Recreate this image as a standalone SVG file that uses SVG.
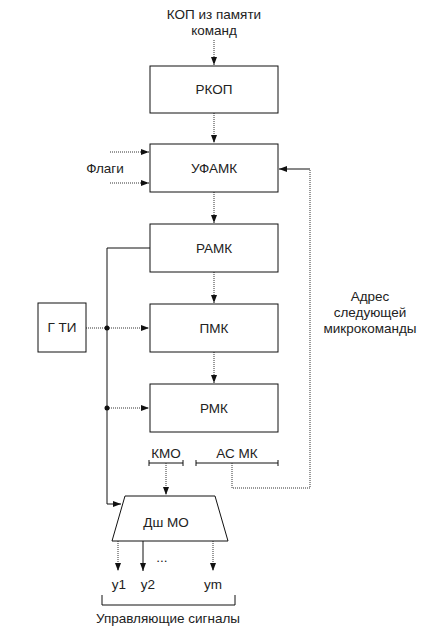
<svg xmlns="http://www.w3.org/2000/svg" width="430" height="631" viewBox="0 0 430 631">
<style>
text{font-family:"Liberation Sans",Arial,sans-serif;font-size:13.5px;fill:#222}
.c{text-anchor:middle}
.box{fill:#fff;stroke:#111;stroke-width:1}
.s{fill:none;stroke:#111;stroke-width:1}
.d{fill:none;stroke:#333;stroke-width:1;stroke-dasharray:1,1}
</style>
<defs>
<marker id="a" markerWidth="9" markerHeight="9" refX="8" refY="4.5" orient="auto" markerUnits="userSpaceOnUse">
<path d="M0,1.5 L8,4.5 L0,7.5 Z" fill="#111"/>
</marker>
</defs>
<g id="connectors">
<line class="d" x1="214" y1="40" x2="214" y2="65" marker-end="url(#a)"/>
<line class="d" x1="214" y1="113" x2="214" y2="143" marker-end="url(#a)"/>
<line class="d" x1="110" y1="152" x2="149" y2="152" marker-end="url(#a)"/>
<line class="d" x1="110" y1="183" x2="149" y2="183" marker-end="url(#a)"/>
<line class="d" x1="214" y1="192" x2="214" y2="223" marker-end="url(#a)"/>
<line class="d" x1="214" y1="272" x2="214" y2="303" marker-end="url(#a)"/>
<line class="d" x1="214" y1="352" x2="214" y2="383" marker-end="url(#a)"/>
<polyline class="s" points="150,248 107,248 107,504 121,504" marker-end="url(#a)"/>
<line class="d" x1="86" y1="328" x2="107" y2="328"/>
<line class="d" x1="107" y1="328" x2="149" y2="328" marker-end="url(#a)"/>
<line class="d" x1="107" y1="408" x2="149" y2="408" marker-end="url(#a)"/>
<circle cx="107" cy="328" r="2.5" fill="#111"/>
<circle cx="107" cy="408" r="2.5" fill="#111"/>
<line class="s" x1="149" y1="463" x2="183" y2="463"/>
<line class="s" x1="149" y1="460" x2="149" y2="466"/>
<line class="s" x1="183" y1="460" x2="183" y2="466"/>
<line class="s" x1="196" y1="463" x2="278" y2="463"/>
<line class="s" x1="196" y1="460" x2="196" y2="466"/>
<line class="s" x1="278" y1="460" x2="278" y2="466"/>
<line class="d" x1="166" y1="463" x2="166" y2="495" marker-end="url(#a)"/>
<polyline class="d" points="232,463 232,488 310,488 310,169"/>
<line class="s" x1="310" y1="169" x2="279" y2="169" marker-end="url(#a)"/>
<line class="d" x1="118" y1="541" x2="118" y2="571" marker-end="url(#a)"/>
<line class="s" x1="143" y1="541" x2="143" y2="571" marker-end="url(#a)"/>
<line class="d" x1="213" y1="541" x2="213" y2="571" marker-end="url(#a)"/>
<polyline class="s" points="102,595 102,605 235,605 235,595"/>
</g>
<g id="label-top"><text class="c" x="214" y="19">КОП из памяти</text><text class="c" x="214" y="35">команд</text></g>
<g id="rkop"><rect class="box" x="150" y="66" width="128" height="47"/><text class="c" x="214" y="94">РКОП</text></g>
<g id="ufamk"><rect class="box" x="150" y="144" width="128" height="48"/><text class="c" x="214" y="173">УФАМК</text></g>
<g id="flags"><text class="c" x="105" y="173">Флаги</text></g>
<g id="ramk"><rect class="box" x="150" y="224" width="128" height="48"/><text class="c" x="214" y="253">РАМК</text></g>
<g id="pmk"><rect class="box" x="150" y="304" width="128" height="48"/><text class="c" x="214" y="333">ПМК</text></g>
<g id="rmk"><rect class="box" x="150" y="384" width="128" height="48"/><text class="c" x="214" y="413">РМК</text></g>
<g id="gti"><rect class="box" x="38" y="303" width="48" height="49"/><text class="c" x="62" y="332">Г ТИ</text></g>
<g id="kmo"><text class="c" x="166" y="458">КМО</text></g>
<g id="asmk"><text class="c" x="237" y="458">АС МК</text></g>
<g id="addr"><text class="c" x="370" y="301">Адрес</text><text class="c" x="370" y="317">следующей</text><text class="c" x="370" y="333">микрокоманды</text></g>
<g id="dshmo"><polygon class="box" points="125,496 215,496 228,541 112,541"/><text class="c" x="166" y="527">Дш МО</text></g>
<g id="outputs"><text class="c" x="119" y="589">y1</text><text class="c" x="148" y="589">y2</text><text class="c" x="213" y="589">ym</text><text class="c" x="162" y="562">...</text><text class="c" x="168" y="623">Управляющие сигналы</text></g>
</svg>
